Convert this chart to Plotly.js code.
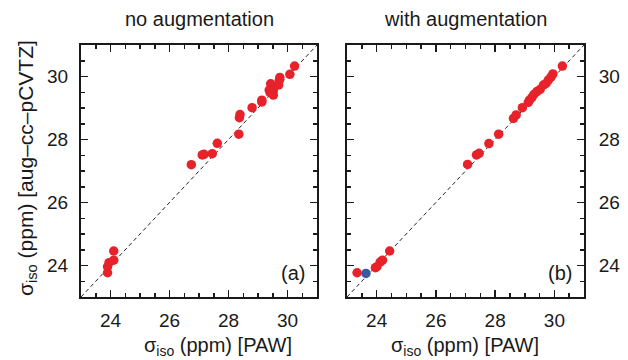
<!DOCTYPE html>
<html><head><meta charset="utf-8">
<script src="https://cdn.plot.ly/plotly-3.0.1.min.js"></script>
<style>html,body{margin:0;padding:0;background:#fff}#chart{width:628px;height:360px}</style>
</head><body><div id="chart"></div>
<script>
const panelTitles = ['no augmentation', 'with augmentation'];
const panelLabels = ['(a)', '(b)'];
const xTitle = 'σ<sub>iso</sub> (ppm) [PAW]';
const yTitle = 'σ<sub>iso</sub> (ppm) [aug–cc–pCVTZ]';
const tickVals = [24, 26, 28, 30];
const diagonal = [23, 31];

// panel (a): no augmentation
const noAugPAW = [30.24, 30.08, 29.74, 29.72, 29.70, 29.43, 29.38, 29.52, 29.41, 29.52, 29.13, 29.13, 28.80, 28.39, 28.37, 28.35, 27.62, 27.45, 27.17, 27.11, 26.74, 24.11, 24.11, 23.95, 23.90, 23.90];
const noAugCC  = [30.33, 30.07, 29.97, 29.87, 29.73, 29.77, 29.57, 29.55, 29.49, 29.41, 29.25, 29.19, 29.01, 28.79, 28.69, 28.17, 27.88, 27.55, 27.53, 27.51, 27.20, 24.46, 24.17, 24.09, 23.96, 23.77];

// panel (b): with augmentation
const augPAW = [30.27, 29.95, 29.89, 29.80, 29.72, 29.63, 29.52, 29.41, 29.31, 29.24, 29.16, 29.12, 28.92, 28.71, 28.62, 28.12, 27.79, 27.46, 27.37, 27.07, 24.44, 24.20, 24.12, 24.01, 23.96, 23.34];
const augCC  = [30.33, 30.08, 29.99, 29.89, 29.78, 29.73, 29.59, 29.52, 29.43, 29.33, 29.25, 29.18, 29.01, 28.78, 28.67, 28.17, 27.87, 27.56, 27.51, 27.21, 24.46, 24.17, 24.11, 23.96, 23.93, 23.77];
const outlierPAW = [23.64];
const outlierCC  = [23.75];

const red = '#e8222a', blue = '#3a58a6';
const font = 'Liberation Sans, Arial, sans-serif';
const ink = '#1a1a1a';

const traces = [
  {x: diagonal, y: diagonal, xaxis: 'x', yaxis: 'y', mode: 'lines', line: {color: '#222', width: 1, dash: '4px,3px'}, hoverinfo: 'skip'},
  {x: noAugPAW, y: noAugCC, xaxis: 'x', yaxis: 'y', mode: 'markers', marker: {color: red, size: 9.5}},
  {x: diagonal, y: diagonal, xaxis: 'x2', yaxis: 'y2', mode: 'lines', line: {color: '#222', width: 1, dash: '4px,3px'}, hoverinfo: 'skip'},
  {x: augPAW, y: augCC, xaxis: 'x2', yaxis: 'y2', mode: 'markers', marker: {color: red, size: 9.5}},
  {x: outlierPAW, y: outlierCC, xaxis: 'x2', yaxis: 'y2', mode: 'markers', marker: {color: blue, size: 9.5}}
];

function ax(extra) {
  return Object.assign({
    range: [23, 31], tickvals: tickVals, ticks: 'inside', ticklen: 7, tickwidth: 1.5, tickcolor: ink,
    showline: true, linecolor: ink, linewidth: 2, mirror: 'ticks', showgrid: false, zeroline: false,
    minor: {dtick: 0.5, tick0: 23, ticks: 'inside', ticklen: 4, tickwidth: 1.5, tickcolor: ink, showgrid: false},
    tickfont: {family: font, size: 19, color: ink}, ticklabelstandoff: 5, fixedrange: true
  }, extra);
}

function note(text, xpx, ypx, size, extra) {
  return Object.assign({text: text, x: xpx/628, y: 1 - ypx/360, xref: 'paper', yref: 'paper',
    xanchor: 'center', yanchor: 'middle', showarrow: false, font: {family: font, size: size, color: ink}}, extra || {});
}

const yDom = [1 - 297/360, 1 - 45/360];
const layout = {
  width: 628, height: 360, margin: {l: 0, r: 0, t: 0, b: 0},
  paper_bgcolor: '#fff', plot_bgcolor: '#fff', showlegend: false,
  font: {family: font, color: ink},
  xaxis: ax({domain: [81/628, 317/628], anchor: 'y'}),
  yaxis: ax({domain: yDom, anchor: 'x', side: 'left', ticklabelstandoff: 7}),
  xaxis2: ax({domain: [347/628, 584/628], anchor: 'y2'}),
  yaxis2: ax({domain: yDom, anchor: 'x2', side: 'right', ticklabelstandoff: 9}),
  annotations: [
    note(panelTitles[0], 199, 19, 20),
    note(panelTitles[1], 465, 19, 20),
    note(xTitle, 218, 346, 20),
    note(xTitle, 465, 346, 20),
    note(yTitle, 27, 168, 21, {textangle: -90}),
    note(panelLabels[0], 307, 273, 20, {xanchor: 'right'}),
    note(panelLabels[1], 574, 273, 20, {xanchor: 'right'})
  ]
};

Plotly.newPlot('chart', traces, layout, {displayModeBar: false, staticPlot: true});
</script>
</body></html>
